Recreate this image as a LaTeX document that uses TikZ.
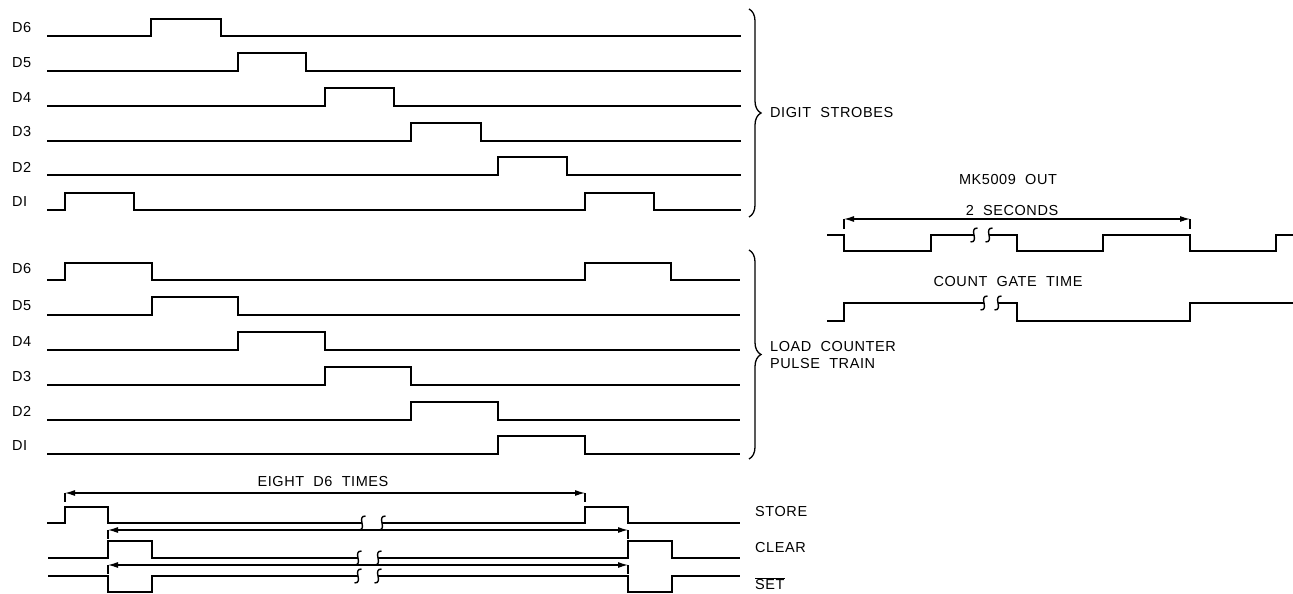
\documentclass[tikz,border=0pt]{standalone}
\usepackage{fontspec}
\setmainfont{Liberation Sans}[LetterSpace=4]
\usetikzlibrary{arrows.meta,decorations.pathreplacing}
\begin{document}
\begin{tikzpicture}[x=1pt,y=-1pt,
  wave/.style={line width=1.5pt, line join=miter},
  dim/.style={line width=1.1pt,{Latex[length=10pt,width=6pt]}-{Latex[length=10pt,width=6pt]}},
  tickln/.style={line width=1.1pt},
  lbl/.style={font=\fontsize{14.5}{17}\selectfont, inner sep=0pt},
  brc/.style={line width=1.3pt, decorate, decoration={brace,amplitude=12pt}},
  squig/.pic={\draw[line width=1.4pt] (3.5,-7) .. controls (-6,-7) and (6,7) .. (-3.5,7);}]
\useasboundingbox (0,0) rectangle (1293,594);

% ---------- Digit strobes ----------
\node[lbl,anchor=west] (a6) at (12,28) {D6};
\node[lbl,anchor=west] (a5) at (12,63) {D5};
\node[lbl,anchor=west] (a4) at (12,98) {D4};
\node[lbl,anchor=west] (a3) at (12,132) {D3};
\node[lbl,anchor=west] (a2) at (12,167) {D2};
\node[lbl,anchor=west] (a1) at (12,202) {DI};

\draw[wave] (47,36) -- (151,36) -- (151,19) -- (221,19) -- (221,36) -- (741,36);
\draw[wave] (47,71) -- (238,71) -- (238,53) -- (306,53) -- (306,71) -- (741,71);
\draw[wave] (47,106) -- (325,106) -- (325,88) -- (394,88) -- (394,106) -- (741,106);
\draw[wave] (47,141) -- (411,141) -- (411,123) -- (481,123) -- (481,141) -- (741,141);
\draw[wave] (47,175) -- (498,175) -- (498,157) -- (567,157) -- (567,175) -- (741,175);
\draw[wave] (47,210) -- (65,210) -- (65,193) -- (134,193) -- (134,210) -- (585,210) -- (585,193) -- (654,193) -- (654,210) -- (741,210);

\draw[brc] (749,9) -- (749,217);
\node[lbl,anchor=west] (ds) at (770,113) {DIGIT\ \ STROBES};

% ---------- Load counter pulse train ----------
\node[lbl,anchor=west] (b6) at (12,269) {D6};
\node[lbl,anchor=west] (b5) at (12,306) {D5};
\node[lbl,anchor=west] (b4) at (12,342) {D4};
\node[lbl,anchor=west] (b3) at (12,377) {D3};
\node[lbl,anchor=west] (b2) at (12,411) {D2};
\node[lbl,anchor=west] (b1) at (12,446) {DI};

\draw[wave] (47,280) -- (65,280) -- (65,263) -- (152,263) -- (152,280) -- (585,280) -- (585,263) -- (671,263) -- (671,280) -- (740,280);
\draw[wave] (47,315) -- (152,315) -- (152,297) -- (238,297) -- (238,315) -- (740,315);
\draw[wave] (47,350) -- (238,350) -- (238,332) -- (325,332) -- (325,350) -- (740,350);
\draw[wave] (47,385) -- (325,385) -- (325,367) -- (411,367) -- (411,385) -- (740,385);
\draw[wave] (47,420) -- (411,420) -- (411,402) -- (498,402) -- (498,420) -- (740,420);
\draw[wave] (47,454) -- (498,454) -- (498,436) -- (585,436) -- (585,454) -- (740,454);

\draw[brc] (749,250) -- (749,459);
\node[lbl,anchor=west,align=left] (lc) at (770,355) {LOAD\ \ COUNTER\\PULSE\ \ TRAIN};

% ---------- Store / Clear / Set ----------
\node[lbl] (e8) at (323,482) {EIGHT\ \ D6\ \ TIMES};
\coordinate (e8L) at (65,493);
\coordinate (e8R) at (585,493);
\draw[dim] (e8L) -- (e8R);
\draw[tickln] (e8L) -- ++(0,9);
\draw[tickln] (e8R) -- ++(0,9);

\draw[wave] (47,523) -- (65,523) -- (65,507) -- (108,507) -- (108,523) -- (362,523);
\draw[wave] (382,523) -- (585,523) -- (585,507) -- (628,507) -- (628,523) -- (740,523);
\pic at (362,523) {squig};
\pic at (382,523) {squig};

\coordinate (c1L) at (108,530);
\coordinate (c1R) at (628,530);
\draw[dim] (c1L) -- (c1R);
\draw[tickln] (c1L) -- ++(0,9);
\draw[tickln] (c1R) -- ++(0,9);

\draw[wave] (48,558) -- (108,558) -- (108,541) -- (152,541) -- (152,558) -- (358,558);
\draw[wave] (378,558) -- (628,558) -- (628,541) -- (672,541) -- (672,558) -- (740,558);
\pic at (358,558) {squig};
\pic at (378,558) {squig};

\coordinate (c2L) at (108,565);
\coordinate (c2R) at (628,565);
\draw[dim] (c2L) -- (c2R);
\draw[tickln] (c2L) -- ++(0,9);
\draw[tickln] (c2R) -- ++(0,9);

\draw[wave] (48,576) -- (108,576) -- (108,592) -- (152,592) -- (152,576) -- (358,576);
\draw[wave] (378,576) -- (628,576) -- (628,592) -- (672,592) -- (672,576) -- (740,576);
\pic at (358,576) {squig};
\pic at (378,576) {squig};

\node[lbl,anchor=west] (st) at (755,512) {STORE};
\node[lbl,anchor=west] (cl) at (755,548) {CLEAR};
\node[lbl,anchor=west] (se) at (755,584) {$\overline{\hbox{SET}}$};

% ---------- MK5009 ----------
\node[lbl] (mk) at (1008,180) {MK5009\ \ OUT};
\node[lbl] (ts) at (1012,211) {2\ \ SECONDS};
\coordinate (tsL) at (844,219);
\coordinate (tsR) at (1190,219);
\draw[dim] (tsL) -- (tsR);
\draw[tickln] (tsL) -- ++(0,10);
\draw[tickln] (tsR) -- ++(0,10);

\draw[wave] (827,235) -- (844,235) -- (844,251) -- (931,251) -- (931,235) -- (974,235);
\draw[wave] (989,235) -- (1017,235) -- (1017,251) -- (1103,251) -- (1103,235) -- (1190,235) -- (1190,251) -- (1276,251) -- (1276,235) -- (1293,235);
\pic at (974,235) {squig};
\pic at (989,235) {squig};

\node[lbl] (cg) at (1008,282) {COUNT\ \ GATE\ \ TIME};
\draw[wave] (827,321) -- (844,321) -- (844,303) -- (984,303);
\draw[wave] (998,303) -- (1017,303) -- (1017,321) -- (1190,321) -- (1190,303) -- (1293,303);
\pic at (984,303) {squig};
\pic at (998,303) {squig};
\end{tikzpicture}
\end{document}
